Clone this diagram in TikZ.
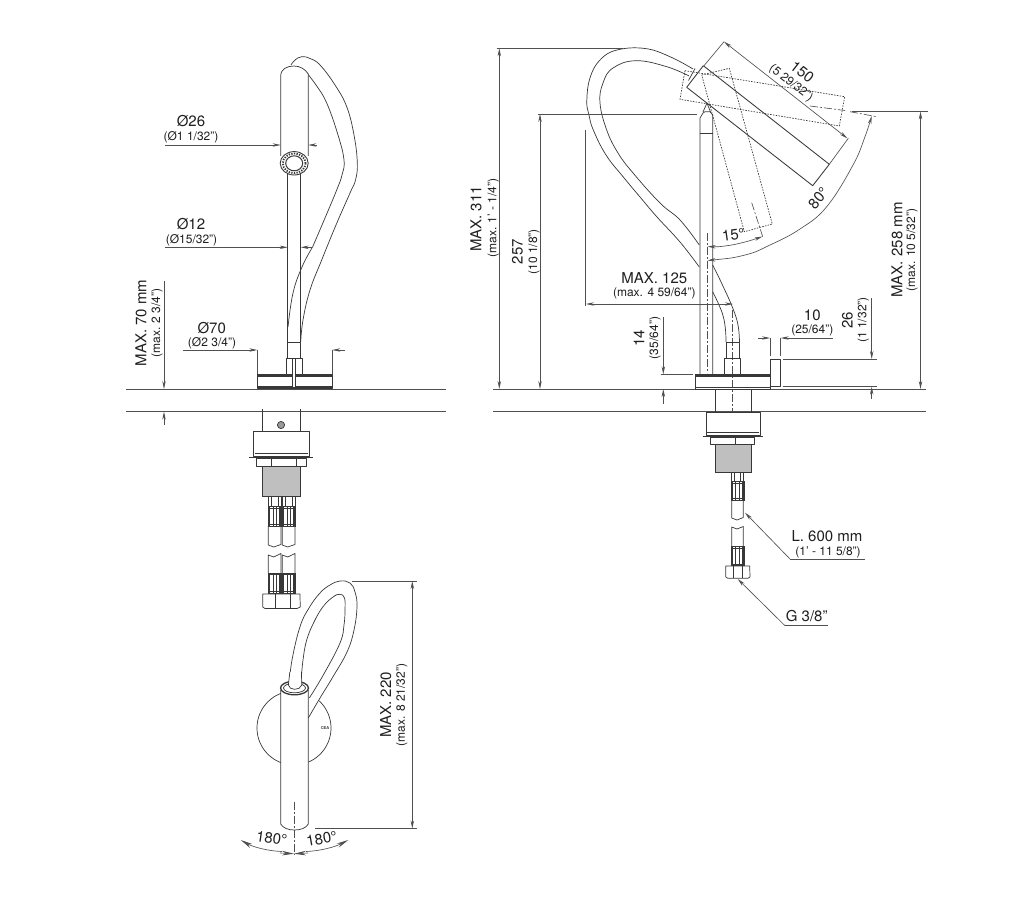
\documentclass[tikz,border=0pt]{standalone}
\usepackage{fontspec}
\setmainfont{TeX Gyre Heros}
\usetikzlibrary{arrows.meta}
\definecolor{ink}{HTML}{383838}
\definecolor{dimc}{HTML}{505050}
\tikzset{
  obj/.style={draw=ink,line width=.7pt,line join=round},
  hvy/.style={draw=ink,line width=1.1pt},
  dimln/.style={draw=dimc,line width=.65pt},
  tip/.style={dimln,-{Stealth[length=8pt,width=3.4pt]}},
  tipb/.style={dimln,-{Stealth[length=12pt,width=4.5pt]}},
  dbl/.style={dimln,{Stealth[length=8pt,width=3.4pt]}-{Stealth[length=8pt,width=3.4pt]}},
  dot/.style={draw=ink,line width=.65pt,dash pattern=on 1.6pt off 1.2pt},
  cen/.style={draw=dimc,line width=.65pt,dash pattern=on 8pt off 2pt on 2pt off 2pt},
  big/.style={text=black!88,font=\fontsize{15}{16}\selectfont,inner sep=0pt},
  sml/.style={text=black!88,font=\fontsize{12}{13}\selectfont,inner sep=0pt},
  thr/.style={fill=black!42,draw=ink,line width=.7pt},
}
\newcommand{\knurl}[4]{% x1 x2 ytop ybot
  \path[fill=white,draw=ink,line width=.7pt] (#1,#3) rectangle (#2,#4);
  \fill[ink] (#1,#3) rectangle ({#1+2},#4);
  \fill[ink] ({#2-2},#3) rectangle (#2,#4);
  \fill[ink] ({#1+4.4},#3) rectangle ({#1+5.2},#4);
  \fill[ink] ({#2-5.2},#3) rectangle ({#2-4.4},#4);
  \draw[ink,line width=.7pt] (#1,{#3+1.5}) -- (#2,{#3+1.5}) (#1,{#4-1.5}) -- (#2,{#4-1.5});
}
\newcommand{\threads}[4]{%
  \path[thr] (#1,#3) rectangle (#2,#4);
  \foreach \yy in {#3,...,#4}{\draw[black!25,line width=.3pt] (#1,{\yy+.5}) -- (#2,{\yy+.5});}
  \draw[ink,line width=.8pt] (#1,#3) rectangle (#2,#4);
}
\begin{document}
\begin{tikzpicture}[x=1pt,y=-1pt]
\path[fill=white] (0,0) rectangle (1027,896);
\useasboundingbox (0,0) rectangle (1027,896);

% ---- counter lines
\draw[dimln] (126,389) -- (446,389) (126,411.7) -- (446,411.7);
\draw[dimln] (493,389) -- (926,389) (493,411.7) -- (926,411.7);

% ======== LEFT SIDE VIEW
% hose
\draw[obj] plot[smooth,tension=.7] coordinates {(291,65) (295,60) (301.7,56.7) (310,58.5) (320,65) (335,85) (346.7,106.7) (354,135) (357.3,163) (355.5,180) (350,193) (336,225) (321.7,260) (310,290) (303,320) (300.7,342)};
\draw[obj] plot[smooth,tension=.7] coordinates {(305,70.7) (316,85) (326.7,103) (338,135) (344,160) (342,175) (336.7,190) (325,218) (312.7,246.7)};
% spout
\path[fill=white,draw=ink,line width=.7pt] (280.7,156) -- (280.7,76) .. controls (280.7,69) and (287,66) .. (294,66) .. controls (300,66) and (305,69) .. (308.3,74) -- (308.3,156);
% column
\draw[obj] (287.7,172) -- (287.7,342) (300.7,172) -- (300.7,342);
\draw[obj] plot[smooth,tension=.7] coordinates {(312.7,246.7) (302,267) (293,293) (288,327)};
\draw[obj] (287.7,342) rectangle (300.7,358);
\draw[obj] (286.7,358) rectangle (302.7,374.3);
% ring
\path[fill=white,draw=ink,line width=.9pt] (294.2,163.3) ellipse (14 and 11.7);
\draw[ink,line width=1.8pt,dash pattern=on 1.3pt off 1.3pt] (294.2,163.3) ellipse (11.4 and 9.8);
\path[fill=white,draw=ink,line width=1pt] (294.2,163.3) ellipse (8.5 and 7.5);
% base
\draw[obj] (257.3,374.3) rectangle (332.3,388.5);
\draw[hvy] (257.3,376) -- (332.3,376) (257.3,387) -- (332.3,387);
\draw[obj,fill=white] (292.7,358) rectangle (295.3,387);
% dims
\draw[dimln] (165,145) -- (273,145);
\draw[tip] (273,145) -- (280.7,145);
\draw[tip] (317,145) -- (308.3,145);
\node[big] (d26) at (191,121) {Ø26};
\node[sml] (d26s) at (191,137) {(Ø1 1/32")};
\draw[dimln] (165,247.3) -- (280,247.3);
\draw[tip] (280,247.3) -- (287.7,247.3);
\draw[tip] (312,247.3) -- (300.7,247.3);
\node[big] (d12) at (191,224) {Ø12};
\node[sml] (d12s) at (191.5,240) {(Ø15/32")};
\draw[dimln] (183,350) -- (250,350) (339,350) -- (345,350);
\draw[tip] (249,350) -- (257.3,350);
\draw[tip] (340.5,350) -- (332.3,350);
\draw[dimln] (257.3,350) -- (257.3,374) (332.3,350) -- (332.3,374);
\node[big] (d70) at (211.7,327.7) {Ø70};
\node[sml] (d70s) at (212,343) {(Ø2 3/4")};
\draw[dimln] (164,280.7) -- (164,380) (164,420) -- (164,425);
\draw[tip] (164,380) -- (164,389);
\draw[tip] (164,420.5) -- (164,411.7);
\node[big,rotate=90] (m70) at (141,323) {MAX. 70 mm};
\node[sml,rotate=90] (m70s) at (157,323) {(max. 2 3/4")};

% ---- under counter, left
\draw[obj] (262.3,409) -- (262.3,431.7) (300.3,409) -- (300.3,431.7);
\path[fill=black!40,draw=ink,line width=.7pt] (281,425) circle (3.6);
\draw[obj] (253.3,431.7) rectangle (309.3,456.7);
\draw[obj] (254.5,453.5) -- (308,453.5);
\draw[hvy] (249.3,457.5) -- (313.3,457.5);
\draw[obj] (256.7,458) rectangle (306,466);
\draw[obj] (271.7,458) -- (271.7,466) (296,458) -- (296,466);
\threads{262.7}{300}{466}{496}
% two hoses
\foreach \a/\b in {268.3/281,282.3/295}{
  \draw[obj] (\a,496) rectangle (\b,506.7);
  \draw[obj] ({\a+3},496) -- ({\a+3},506.7) ({\b-3},496) -- ({\b-3},506.7);
  \knurl{\a}{\b}{506.7}{526}
  \draw[obj] (\a,526) -- (\a,545) -- ({(\a+\b)/2-1},547) -- ({\b},544.5) -- (\b,526);
  \draw[obj] (\a,573) -- (\a,555) -- ({(\a+\b)/2-1},557) -- (\b,553.5) -- (\b,573);
  \knurl{\a}{\b}{573}{593}
}
\draw[obj] (262.7,594) -- (299.9,594) -- (300.3,607) -- (297,608.5) -- (265,608.5) -- (262.7,607) -- cycle;
\draw[obj] (275.7,594) -- (275.7,608.5) (290,594) -- (290,608.5);

% ======== TOP VIEW
\draw[obj] plot[smooth,tension=.7] coordinates {(289.3,684) (292,660) (300,626.7) (309,608) (320,593) (330,585) (340,581) (350,583) (355,592) (357,606.7) (354,630) (347,652) (333,676.7) (320,698) (308.3,718)};
\draw[obj] plot[smooth,tension=.7] coordinates {(301,682) (303,660) (306.7,640) (314,622) (323,606.7) (333,597) (340,594.3) (344.5,598) (345,610) (344,625) (340,643) (323.3,675) (309.3,698)};
% backplate
\draw[obj] plot[domain=111:249,samples=40] ({294+37*cos(\x)},{728+37*sin(\x)});
\draw[obj] plot[domain=-47:67,samples=30] ({294+37*cos(\x)},{728+37*sin(\x)});
% handle
\path[fill=white] (280.7,690) rectangle (308.3,826);
\draw[obj] (280.7,690) -- (280.7,824) .. controls (283,828) and (288,830) .. (294.5,830) .. controls (301,830) and (306,828) .. (308.3,824) -- (308.3,690);
\path[fill=white,draw=ink,line width=1.3pt] (294.5,688) ellipse (14 and 6.8);
\draw[ink,line width=.7pt] (294.5,688) ellipse (11 and 4.8);
\path[fill=white,draw=ink,line width=.7pt] (289.8,672) -- (288.4,685) .. controls (289,690.5) and (300,691) .. (301.8,685) -- (301.4,672);
\node[text=ink,font=\fontsize{4}{4}\bfseries\selectfont,inner sep=0pt] (logo) at (325,728) {CEA};
% dims
\draw[dimln] (351.7,581) -- (416.7,581) (315,828.5) -- (416.7,828.5);
\draw[dbl] (412.3,581) -- (412.3,828.5);
\node[big,rotate=90] (m220) at (385.7,705) {MAX. 220};
\node[sml,rotate=90] (m220s) at (401.7,705) {(max. 8 21/32")};
\draw[cen] (294,801.7) -- (294,855);
\draw[tipb] (282,851.5) .. controls (268,851) and (253,847) .. (240.7,840);
\draw[tipb] (306,851.5) .. controls (320,851) and (335,847) .. (348.3,840);
\draw[tipb] (280,853) -- (294,853.7);
\draw[tipb] (308,853) -- (294,853.7);
\node[big,rotate=-8] (a180l) at (271.7,838) {180°};
\node[big,rotate=10] (a180r) at (321.7,839) {180°};

% ======== RIGHT SIDE VIEW
% hose
\draw[obj] plot[smooth,tension=.7] coordinates {(693,69) (670,56.7) (645,48.5) (617,50) (600,60) (590,78) (586.8,101) (589,115) (593.3,130) (606,155) (623.3,177) (640,197) (657,217) (680,242) (699.3,267)};
\draw[obj] plot[smooth,tension=.7] coordinates {(689,76) (666.7,66.7) (636,60.7) (613,68) (603,83) (600,103) (606.7,130) (618,153) (633.3,173.3) (660,203) (680,220) (699.3,245)};
\draw[obj] plot[smooth,tension=.7] coordinates {(712.7,265) (722,284) (732.7,308) (738,325) (739.5,342)};
\draw[obj] plot[smooth,tension=.7] coordinates {(712.7,291.7) (719,305) (723.3,316.7) (725.5,330) (726,342)};
% tube
\draw[obj] (700,374) -- (700,118) -- (703,113) -- (705,111.7) -- (710,111.7) -- (712.7,115) -- (712.7,374);
\draw[ink,line width=1.2pt] (700,133.5) -- (712.7,133.5);
\draw[obj] (703,112) -- (707,103) -- (710.5,112);
% dotted positions
\draw[dot] (701.7,75) -- (729.3,68.3) -- (772.3,224) -- (744.3,231.7) -- cycle;
\draw[dot] (685,70.7) -- (680,99.3) -- (839.3,126) -- (844.7,96.7) -- cycle;
% spout solid
\draw[line width=.85pt,ink,line join=round] (703.3,65.7) -- (686.7,87.3) -- (812.7,185.7) -- (829.3,164.3) -- cycle;
\draw[obj] (695,68.5) -- (688.5,80.5);
% center lines
\draw[cen] (751.7,202.7) -- (762.7,236.7);
\draw[cen] (810,106) -- (845,110.5);
\draw[cen] (850,111.7) -- (876.7,116.7);
\draw[cen] (707.3,233) -- (707.3,373);
\draw[cen] (732.7,310) -- (732.7,411.7);
% arcs
\draw[dbl] plot[smooth,tension=.7] coordinates {(707.5,260.5) (745,255) (770,245) (800,229) (826.7,206.7) (853,165) (865,136.7) (871.7,116)};
\draw[dbl] plot[smooth,tension=.7] coordinates {(707.5,246.5) (725,246) (745,242) (762.5,236.5)};
\node[big,rotate=50] (a80) at (818.3,198.3) {80°};
\node[big,rotate=8] (a15) at (733.3,235) {15°};
% 150
\draw[dimln] (704,65.7) -- (724,41.7) (829.3,164.3) -- (848.3,138.3);
\draw[dbl] (724,41.7) -- (847.3,138.3);
\node[big,rotate=-38] (d150) at (802.3,72.3) {150};
\node[sml,rotate=-38] (d150s) at (791,83.3) {(5 29/32")};
% connector and base
\draw[obj] (726,342) rectangle (739.5,358);
\draw[obj] (724.3,358.3) rectangle (740.3,374);
\draw[obj] (695.7,374.3) rectangle (770,389);
\draw[hvy] (695.7,376) -- (770,376) (695.7,387.5) -- (770,387.5);
\draw[obj] (770,359.3) -- (780.7,359.3) -- (780.7,386.7) -- (770,386.7) -- cycle;
% overall dims
\draw[dimln] (496.7,48.3) -- (623,48.3);
\draw[dbl] (499.3,48.3) -- (499.3,389);
\node[big,rotate=90] (m311) at (476,219) {MAX. 311};
\node[sml,rotate=90] (m311s) at (493.3,218) {(max. 1' - 1/4")};
\draw[dimln] (537.7,114) -- (696.7,114);
\draw[dbl] (540,114) -- (540,389);
\node[big,rotate=90] (d257) at (517.3,251.7) {257};
\node[sml,rotate=90] (d257s) at (534,251.7) {(10 1/8")};
\draw[dimln] (585.7,130) -- (585.7,306);
\draw[dbl] (586,304) -- (733,304);
\node[big] (m125) at (654.3,277.7) {MAX. 125};
\node[sml] (m125s) at (654.3,293) {(max. 4 59/64")};
% 14
\draw[dimln] (663.3,317) -- (663.3,366) (663.3,397) -- (663.3,404);
\draw[tip] (663.3,366) -- (663.3,374.3);
\draw[tip] (663.3,397.5) -- (663.3,389);
\draw[dimln] (660.7,374.3) -- (693,374.3);
\node[big,rotate=90] (d14) at (639,338) {14};
\node[sml,rotate=90] (d14s) at (655,338) {(35/64")};
% 10
\draw[dimln] (758,338) -- (762,338) (789,338) -- (833,338);
\draw[tip] (761.5,338) -- (770,338);
\draw[tip] (789.5,338) -- (780.7,338);
\draw[dimln] (770,338) -- (770,356) (780.7,338) -- (780.7,356);
\node[big] (d10) at (812.3,315) {10};
\node[sml] (d10s) at (812.3,330.7) {(25/64")};
% 26
\draw[dimln] (871.7,298) -- (871.7,351) (871.7,395) -- (871.7,399);
\draw[tip] (871.7,350.5) -- (871.7,359);
\draw[tip] (871.7,395.5) -- (871.7,386.7);
\draw[dimln] (782.7,359) -- (876.7,359) (782.7,386.7) -- (876.7,386.7);
\node[big,rotate=90] (d26b) at (847.3,320) {26};
\node[sml,rotate=90] (d26bs) at (863.3,320) {(1 1/32")};
% 258
\draw[dimln] (852,111.5) -- (928,111.5);
\draw[dbl] (920.5,111.5) -- (920.5,389);
\node[big,rotate=90] (m258) at (897,250) {MAX. 258 mm};
\node[sml,rotate=90] (m258s) at (912,250) {(max. 10 5/32")};

% ---- under counter, right
\draw[obj] (715,389) -- (715,411.7) (751.7,389) -- (751.7,411.7);
\draw[obj] (706,412) rectangle (760,435);
\draw[obj] (707,432.5) -- (759,432.5);
\draw[hvy] (702.7,436.6) -- (763.3,436.6);
\draw[obj] (710.7,437) rectangle (754,444);
\draw[obj] (735.7,437) -- (735.7,444);
\threads{715}{751}{444}{472}
\draw[obj] (731.7,472.3) rectangle (743.3,481.7);
\draw[obj] (734.7,472.3) -- (734.7,481.7) (740.3,472.3) -- (740.3,481.7);
\knurl{731}{744}{481.7}{500}
\draw[obj] (731.7,500) -- (731.7,518) -- (737,520) -- (743.3,517.5) -- (743.3,500);
\draw[obj] (731.7,546.7) -- (731.7,527) -- (737,529) -- (743.3,526.5) -- (743.3,546.7);
\knurl{731}{744}{546.7}{565.7}
\draw[obj] (725.7,566) -- (749.7,566) -- (750,577) -- (748,578.3) -- (728,578.3) -- (725.7,577) -- cycle;
\draw[obj] (733,566) -- (733,578.3) (742.7,566) -- (742.7,578.3);
\coordinate (lsh) at (790,559);
\coordinate (gsh) at (785,625.7);
\draw[tip] (lsh) -- (745,512.7);
\draw[dimln] (lsh) -- (865,559);
\node[big] (l600) at (827,536) {L. 600 mm};
\node[sml] (l600s) at (828,552) {(1' - 11 5/8")};
\draw[tip] (gsh) -- (737.7,579);
\draw[dimln] (gsh) -- (827.7,625.7);
\node[big] (g38) at (806.7,615.7) {G 3/8"};
\end{tikzpicture}
\end{document}
